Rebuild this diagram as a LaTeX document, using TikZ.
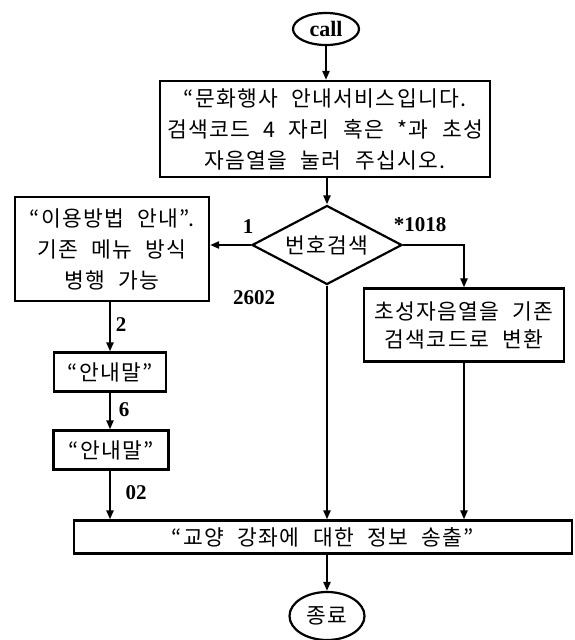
\documentclass[tikz,border=0pt]{standalone}
\usepackage{fontspec}
\setmainfont{Liberation Serif}
\newfontfamily\kr[WordSpace=2.2,LetterSpace=6]{Noto Sans CJK KR}
\usetikzlibrary{shapes.geometric,arrows.meta}
\begin{document}
\begin{tikzpicture}[x=1pt,y=-1pt,line width=2.2pt,
  box/.style={draw,rectangle,inner sep=0pt,align=center,font=\kr\fontsize{21.5}{31}\selectfont},
  term/.style={draw,ellipse,inner sep=0pt},
  lab/.style={font=\bfseries\fontsize{21}{22}\selectfont,inner sep=0pt},
  arr/.style={-{Triangle[length=9pt,width=7pt]}}]
\useasboundingbox (0,0) rectangle (574,640);
\node[term,minimum width=66pt,minimum height=32pt,font=\bfseries\fontsize{22}{24}\selectfont] (call) at (326,29) {call};
\node[box,minimum width=330pt,minimum height=96pt] (intro) at (325,129) {“문화행사 안내서비스입니다.\\검색코드 4 자리 혹은 *과 초성\\자음열을 눌러 주십시오.};
\node[draw,diamond,aspect=1.9,inner sep=0pt,minimum width=150pt,minimum height=79pt,font=\kr\fontsize{21.5}{22}\selectfont] (dec) at (327,245) {번호검색};
\node[box,minimum width=194pt,minimum height=104pt] (guide) at (112,249) {“이용방법 안내”.\\기존 메뉴 방식\\병행 가능};
\node[box,minimum width=200pt,minimum height=73pt,font=\kr\fontsize{21.5}{28}\selectfont] (conv) at (464,325) {초성자음열을 기존\\검색코드로 변환};
\node[box,minimum width=112pt,minimum height=39pt] (m1) at (110,372) {“안내말”};
\node[box,minimum width=115pt,minimum height=39pt] (m2) at (111,450) {“안내말”};
\node[box,minimum width=498pt,minimum height=33pt] (out) at (323,537) {“교양 강좌에 대한 정보 송출”};
\node[term,minimum width=75pt,minimum height=48pt,font=\kr\fontsize{21.5}{22}\selectfont] (end) at (327,616) {종료};
\node[lab] (l1) at (248,227) {1};
\node[lab] (l1018) at (420,225) {*1018};
\node[lab] (l2602) at (254,298) {2602};
\node[lab] (l2) at (121,325) {2};
\node[lab] (l6) at (124,410) {6};
\node[lab] (l02) at (136,493) {02};
\draw[arr] (call) -- (intro.north -| call);
\draw[arr] (intro.south -| dec.north) -- (dec.north);
\draw[arr] (dec.west) -- (guide.east |- dec.west);
\draw[arr] (dec.east) -| (conv.north);
\draw[arr] (dec.south) -- (dec.south |- out.north);
\draw[arr] (conv.south) -- (conv.south |- out.north);
\draw[arr] (m1.north |- guide.south) -- (m1.north);
\draw[arr] (m1.south) -- (m1.south |- m2.north);
\draw[arr] (m1.south |- m2.south) -- (m1.south |- out.north);
\draw[arr] (end.north |- out.south) -- (end.north);
\end{tikzpicture}
\end{document}
